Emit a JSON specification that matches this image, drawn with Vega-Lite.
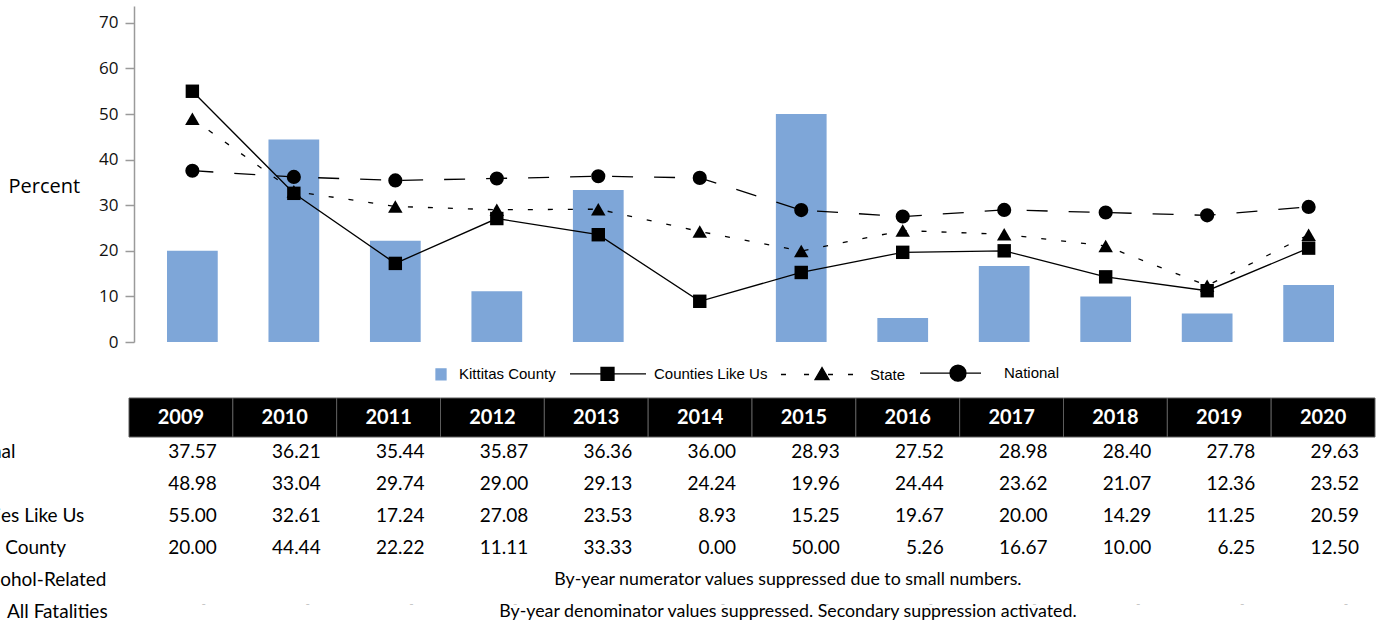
{
  "$schema": "https://vega.github.io/schema/vega-lite/v6.json",
  "width": 1246,
  "height": 629,
  "autosize": {"type": "none"},
  "padding": {"left": 129, "top": 0, "right": 2, "bottom": 0},
  "config": {"view": {"stroke": null}},
  "datasets": {
    "wide": [
      {"year": "2009", "National": 37.57, "State": 48.98, "Counties Like Us": 55.00, "Kittitas County": 20.00},
      {"year": "2010", "National": 36.21, "State": 33.04, "Counties Like Us": 32.61, "Kittitas County": 44.44},
      {"year": "2011", "National": 35.44, "State": 29.74, "Counties Like Us": 17.24, "Kittitas County": 22.22},
      {"year": "2012", "National": 35.87, "State": 29.00, "Counties Like Us": 27.08, "Kittitas County": 11.11},
      {"year": "2013", "National": 36.36, "State": 29.13, "Counties Like Us": 23.53, "Kittitas County": 33.33},
      {"year": "2014", "National": 36.00, "State": 24.24, "Counties Like Us": 8.93, "Kittitas County": 0.00},
      {"year": "2015", "National": 28.93, "State": 19.96, "Counties Like Us": 15.25, "Kittitas County": 50.00},
      {"year": "2016", "National": 27.52, "State": 24.44, "Counties Like Us": 19.67, "Kittitas County": 5.26},
      {"year": "2017", "National": 28.98, "State": 23.62, "Counties Like Us": 20.00, "Kittitas County": 16.67},
      {"year": "2018", "National": 28.40, "State": 21.07, "Counties Like Us": 14.29, "Kittitas County": 10.00},
      {"year": "2019", "National": 27.78, "State": 12.36, "Counties Like Us": 11.25, "Kittitas County": 6.25},
      {"year": "2020", "National": 29.63, "State": 23.52, "Counties Like Us": 20.59, "Kittitas County": 12.50}
    ],
    "series": [
      {"s": "Kittitas County"},
      {"s": "Counties Like Us"},
      {"s": "State"},
      {"s": "National"}
    ],
    "rows": [
      {"row": "National"},
      {"row": "State"},
      {"row": "Counties Like Us"},
      {"row": "Kittitas County"},
      {"row": "Alcohol-Related"},
      {"row": "All Fatalities"}
    ],
    "msgs": [
      {"row": "Alcohol-Related", "msg": "By-year numerator values suppressed due to small numbers."},
      {"row": "All Fatalities", "msg": "By-year denominator values suppressed. Secondary suppression activated."}
    ]
  },
  "layer": [
    {
      "data": {"name": "wide"},
      "encoding": {
        "x": {"field": "year", "type": "ordinal",
              "scale": {"domain": ["2009","2010","2011","2012","2013","2014","2015","2016","2017","2018","2019","2020"], "range": [38, 1205], "paddingInner": 0.5, "paddingOuter": 0},
              "axis": null}
      },
      "layer": [
        {
          "mark": {"type": "bar", "color": "#7ea6d8"},
          "encoding": {
            "y": {"field": "Kittitas County", "type": "quantitative", "title": "Percent",
                  "scale": {"domain": [0, 73.7], "range": [342, 6], "nice": false, "zero": true},
                  "axis": {"values": [0,10,20,30,40,50,60,70], "title": "Percent", "grid": false,
                           "offset": -5, "tickSize": 9, "tickColor": "#9a9a9a", "domainColor": "#9a9a9a",
                           "tickWidth": 1.5, "domainWidth": 1.5,
                           "labelFont": "Open Sans", "labelFontSize": 17, "labelColor": "#111", "labelPadding": 7,
                           "titleFont": "Open Sans", "titleFontSize": 20, "titleFontWeight": "normal", "titleColor": "#000",
                           "titleAngle": 0, "titleAlign": "left", "titleBaseline": "middle", "titleX": -126, "titleY": 186}}
          }
        },
        {
          "mark": {"type": "line", "color": "#000", "strokeWidth": 1.3},
          "encoding": {"y": {"field": "Counties Like Us", "type": "quantitative", "title": "Percent"}}
        },
        {
          "mark": {"type": "line", "color": "#000", "strokeWidth": 1.3, "strokeDash": [5, 15]},
          "encoding": {"y": {"field": "State", "type": "quantitative", "title": "Percent"}}
        },
        {
          "mark": {"type": "line", "color": "#000", "strokeWidth": 1.3, "strokeDash": [21, 21]},
          "encoding": {"y": {"field": "National", "type": "quantitative", "title": "Percent"}}
        },
        {
          "mark": {"type": "point", "shape": "square", "filled": true, "color": "#000", "size": 180, "opacity": 1},
          "encoding": {"y": {"field": "Counties Like Us", "type": "quantitative", "title": "Percent"}}
        },
        {
          "mark": {"type": "point", "shape": "triangle-up", "filled": true, "color": "#000", "size": 210, "opacity": 1},
          "encoding": {"y": {"field": "State", "type": "quantitative", "title": "Percent"}}
        },
        {
          "mark": {"type": "point", "shape": "circle", "filled": true, "color": "#000", "size": 200, "opacity": 1},
          "encoding": {"y": {"field": "National", "type": "quantitative", "title": "Percent"}}
        }
      ]
    },
    {
      "data": {"name": "series"},
      "mark": {"type": "point", "opacity": 0, "strokeWidth": 1.3},
      "encoding": {
        "fill": {
          "field": "s", "type": "nominal",
          "scale": {"domain": ["Kittitas County", "Counties Like Us", "State", "National"], "range": ["#7ea6d8", "#000000", "#000000", "#000000"]}
        },
        "stroke": {
          "field": "s", "type": "nominal",
          "scale": {"domain": ["Kittitas County", "Counties Like Us", "State", "National"], "range": ["#7ea6d8", "#000000", "#000000", "#000000"]}
        },
        "shape": {
          "field": "s", "type": "nominal",
          "scale": {
            "domain": ["Kittitas County", "Counties Like Us", "State", "National"],
            "range": [
              "M0.524,-0.131H0.762V0.131H0.524Z",
              "M-0.929,0H0.881M-0.19,-0.155H0.119V0.155H-0.19Z",
              "M-1.048,0H-0.929M-0.5,0H-0.38M0.071,0H0.19M0.548,0H0.667M-0.071,-0.167L0.095,0.119H-0.238Z",
              "M-0.929,0H0.524M-0.214,0A0.19,0.19,0,1,0,0.166,0A0.19,0.19,0,1,0,-0.214,0Z"
            ]
          },
          "legend": {
            "title": null, "orient": "none", "legendX": 242, "legendY": 330,
            "direction": "horizontal", "columns": 4, "columnPadding": 10, "padding": 0,
            "symbolSize": 7056, "symbolStrokeWidth": 1.3, "symbolOpacity": 1,
            "labelFont": "Liberation Sans", "labelFontSize": 15, "labelColor": "#000", "labelOffset": 2, "labelLimit": 300
          }
        }
      }
    },
    {
      "data": {"name": "wide"},
      "encoding": {
        "x": {"field": "year", "type": "ordinal",
              "scale": {"type": "band", "domain": ["2009","2010","2011","2012","2013","2014","2015","2016","2017","2018","2019","2020"], "paddingInner": 0, "paddingOuter": 0},
              "axis": null},
        "y": {"datum": "Header", "type": "nominal",
              "scale": {"type": "band", "domain": ["Header"], "range": [398, 437], "paddingInner": 0, "paddingOuter": 0},
              "axis": null}
      },
      "layer": [
        {"mark": {"type": "rect", "fill": "#000", "stroke": "#5c5c5c", "strokeWidth": 1}},
        {"mark": {"type": "text", "color": "#fff", "font": "Lato", "fontWeight": "bold", "fontSize": 20, "baseline": "middle", "align": "center"},
         "encoding": {"text": {"field": "year"}}}
      ]
    },
    {
      "encoding": {
        "x": {"field": "year", "type": "ordinal",
              "scale": {"type": "band", "domain": ["2009","2010","2011","2012","2013","2014","2015","2016","2017","2018","2019","2020"], "paddingInner": 0, "paddingOuter": 0},
              "axis": null}
      },
      "layer": [
        {
          "data": {"name": "wide"},
          "transform": [{"fold": ["National", "State", "Counties Like Us", "Kittitas County"], "as": ["row", "val"]}],
          "mark": {"type": "text", "font": "Lato", "fontSize": 19, "color": "#000", "align": "right", "baseline": "middle", "dx": -16},
          "encoding": {
            "x": {"field": "year", "type": "ordinal", "bandPosition": 1},
            "y": {"field": "row", "type": "nominal",
                  "scale": {"type": "point", "domain": ["National", "State", "Counties Like Us", "Kittitas County", "Alcohol-Related", "All Fatalities"], "range": [452, 612], "padding": 0},
                  "axis": null},
            "text": {"field": "val", "type": "quantitative", "format": ".2f"}
          }
        },
        {
          "data": {"name": "wide"},
          "mark": {"type": "text", "font": "Lato", "fontSize": 12, "color": "#c4c4c4", "align": "center", "baseline": "middle", "dx": -29, "dy": -8, "text": "-"},
          "encoding": {
            "x": {"field": "year", "type": "ordinal", "bandPosition": 1},
            "y": {"datum": "All Fatalities", "type": "nominal"}
          }
        },
        {
          "data": {"name": "rows"},
          "transform": [{"filter": "datum.row === 'National' || datum.row === 'State' || datum.row === 'Counties Like Us'"}],
          "mark": {"type": "text", "font": "Lato", "fontSize": 19, "color": "#000", "align": "left", "baseline": "middle", "dx": -184},
          "encoding": {
            "x": {"datum": "2009", "type": "ordinal", "bandPosition": 0},
            "y": {"field": "row", "type": "nominal"},
            "text": {"field": "row"}
          }
        },
        {
          "data": {"name": "rows"},
          "transform": [{"filter": "datum.row === 'Kittitas County'"}],
          "mark": {"type": "text", "font": "Lato", "fontSize": 19, "color": "#000", "align": "left", "baseline": "middle", "dx": -188},
          "encoding": {
            "x": {"datum": "2009", "type": "ordinal", "bandPosition": 0},
            "y": {"field": "row", "type": "nominal"},
            "text": {"field": "row"}
          }
        },
        {
          "data": {"name": "rows"},
          "transform": [{"filter": "datum.row === 'Alcohol-Related'"}],
          "mark": {"type": "text", "font": "Lato", "fontSize": 19, "color": "#000", "align": "left", "baseline": "middle", "dx": -155},
          "encoding": {
            "x": {"datum": "2009", "type": "ordinal", "bandPosition": 0},
            "y": {"field": "row", "type": "nominal"},
            "text": {"field": "row"}
          }
        },
        {
          "data": {"name": "rows"},
          "transform": [{"filter": "datum.row === 'All Fatalities'"}],
          "mark": {"type": "text", "font": "Lato", "fontSize": 19, "color": "#000", "align": "left", "baseline": "middle", "dx": -122},
          "encoding": {
            "x": {"datum": "2009", "type": "ordinal", "bandPosition": 0},
            "y": {"field": "row", "type": "nominal"},
            "text": {"field": "row"}
          }
        },
        {
          "data": {"name": "msgs"},
          "mark": {"type": "text", "font": "Lato", "fontSize": 17.8, "color": "#000", "align": "center", "baseline": "middle", "dx": -16},
          "encoding": {
            "x": {"datum": "2015", "type": "ordinal", "bandPosition": 0.5},
            "y": {"field": "row", "type": "nominal"},
            "text": {"field": "msg"}
          }
        }
      ]
    }
  ],
  "resolve": {"scale": {"x": "independent", "y": "independent"}}
}
